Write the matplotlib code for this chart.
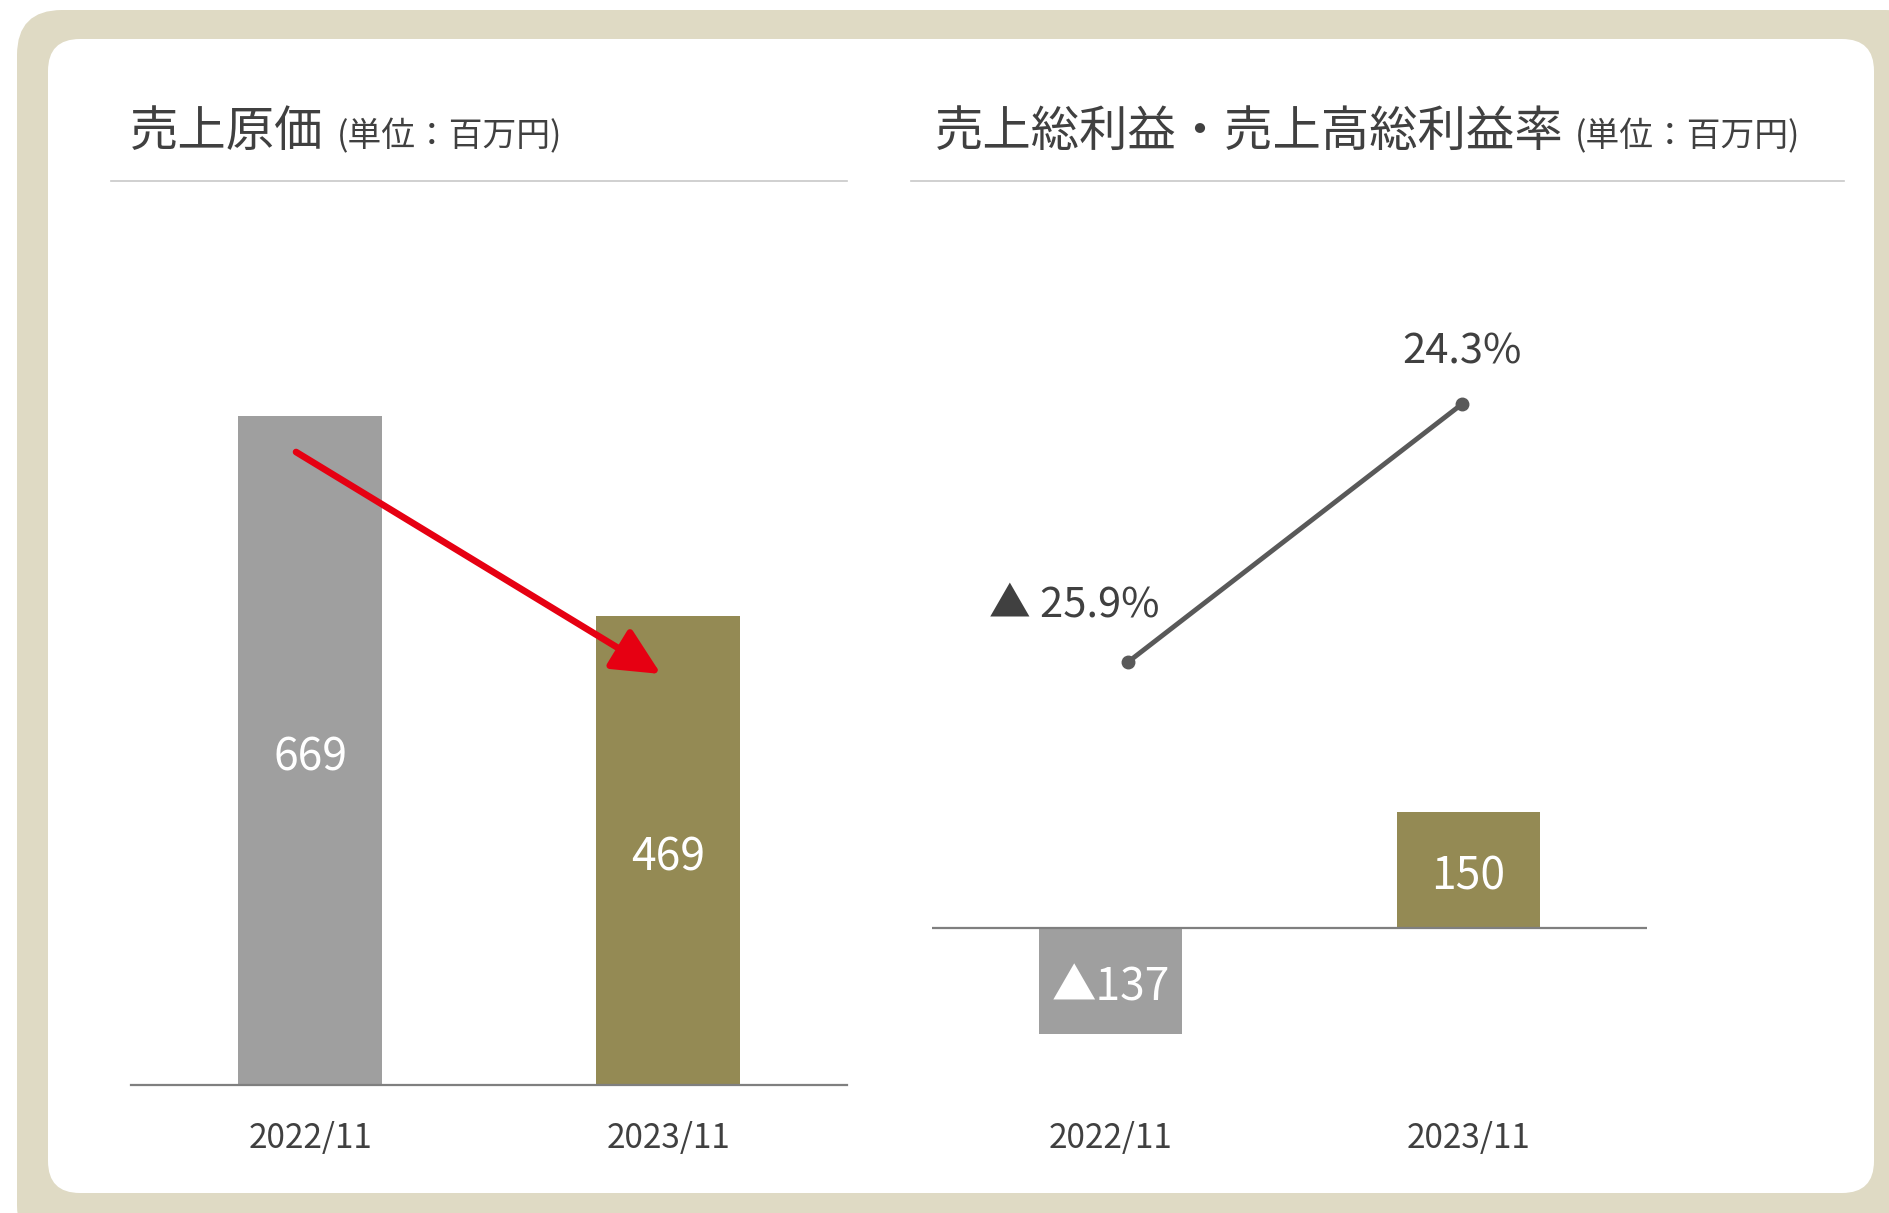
import matplotlib
matplotlib.use("Agg")
import matplotlib.pyplot as plt
from matplotlib.patches import FancyBboxPatch, FancyArrowPatch
from matplotlib.lines import Line2D

plt.rcParams['font.family'] = ['Noto Sans CJK JP', 'DejaVu Sans']

# ---- data ----
periods = ["2022/11", "2023/11"]
cost_of_sales = [669, 469]
gross_profit = [-137, 150]
gross_margin = [-25.9, 24.3]
cost_labels = ["669", "469"]
profit_labels = ["▲137", "150"]
margin_labels = ["▲ 25.9%", "24.3%"]

title_left = "売上原価"
title_right = "売上総利益・売上高総利益率"
unit_text = "(単位：百万円)"

GRAY = "#9f9f9f"
OLIVE = "#948a54"
TEXT = "#404040"
BEIGE = "#dfdac4"

W, H = 1890, 1213
fig = plt.figure(figsize=(W / 100, H / 100), dpi=100)
fig.patch.set_facecolor("white")


def box(x0, y0, x1, y1):
    return [x0 / W, 1 - y1 / H, (x1 - x0) / W, (y1 - y0) / H]


def fx(x):
    return x / W


def fy(y):
    return 1 - y / H


# rounded frame
bg = fig.add_axes([0, 0, 1, 1])
bg.set_xlim(0, W)
bg.set_ylim(H, 0)
bg.axis("off")
bg.add_patch(FancyBboxPatch((17 + 45, 10 + 45), 1930 - 17 - 90, 1250 - 10 - 90,
                            boxstyle="round,pad=45", fc=BEIGE, ec="none"))
bg.add_patch(FancyBboxPatch((48 + 32, 39 + 32), 1874 - 48 - 64, 1193 - 39 - 64,
                            boxstyle="round,pad=32", fc="white", ec="none"))

# headers
for x_title, x_unit, title, (lx0, lx1) in [
    (130, 337, title_left, (111, 847)),
    (935, 1575, title_right, (911, 1844)),
]:
    fig.text(fx(x_title), fy(146), title, fontsize=34.8, color=TEXT, va="baseline", ha="left")
    fig.text(fx(x_unit), fy(146), unit_text, fontsize=24.3, color=TEXT, va="baseline", ha="left")
    fig.add_artist(Line2D([fx(lx0), fx(lx1)], [fy(181), fy(181)], color="#c8c8c8", lw=1.2))


def style_axes(ax):
    for s in ax.spines.values():
        s.set_visible(False)
    ax.set_yticks([])
    ax.tick_params(axis="x", length=0, pad=26, labelsize=24, labelcolor=TEXT)
    ax.patch.set_alpha(0)


def center_labels(ax, xs, values, labels):
    for xi, v, lab in zip(xs, values, labels):
        ax.annotate(lab, (xi, v / 2), xytext=(0, -5), textcoords="offset points",
                    ha="center", va="center", color="white", fontsize=32)


# left: cost of sales
ax1 = fig.add_axes(box(131, 200, 847, 1085))
x = list(range(len(periods)))
ax1.bar(x, cost_of_sales, width=0.4, color=[GRAY, OLIVE])
ax1.set_xlim(-0.5, 1.5)
ax1.set_ylim(0, 885)
ax1.axhline(0, color="#7f7f7f", lw=1.6, clip_on=False)
ax1.set_xticks(x, periods)
style_axes(ax1)
center_labels(ax1, x, cost_of_sales, cost_labels)
ax1.add_patch(FancyArrowPatch((-0.039, 633), (0.980, 411),
                              arrowstyle="-|>,head_length=29,head_width=14",
                              mutation_scale=1, color="#e60012", lw=4.8,
                              capstyle="round", shrinkA=0, shrinkB=0, zorder=5))

# right: gross profit bars
ax2 = fig.add_axes(box(932, 200, 1647, 1085))
ax2.bar(x, gross_profit, width=0.4, color=[GRAY, OLIVE])
ax2.set_xlim(-0.5, 1.5)
ax2.set_ylim(-202.8, 940.6)
ax2.axhline(0, color="#7f7f7f", lw=1.6, zorder=3)
ax2.set_xticks(x, periods)
style_axes(ax2)
center_labels(ax2, x, gross_profit, profit_labels)

# right: gross margin line
ax3 = fig.add_axes(box(932, 200, 1647, 1085))
ax3.axis("off")
ax3.set_xlim(-0.587, 1.554)
ax3.set_ylim(-108.2, 64.0)
ax3.plot(x, gross_margin, color="#595959", lw=3.5, marker="o", ms=9)
ax3.annotate(margin_labels[0], (x[0], gross_margin[0]), xytext=(23, 41),
             textcoords="offset points", ha="right", va="center",
             fontsize=30, color=TEXT)
ax3.annotate(margin_labels[1], (x[1], gross_margin[1]), xytext=(0, 37.5),
             textcoords="offset points", ha="center", va="center",
             fontsize=30, color=TEXT)

fig.savefig("out.png", dpi=100)
